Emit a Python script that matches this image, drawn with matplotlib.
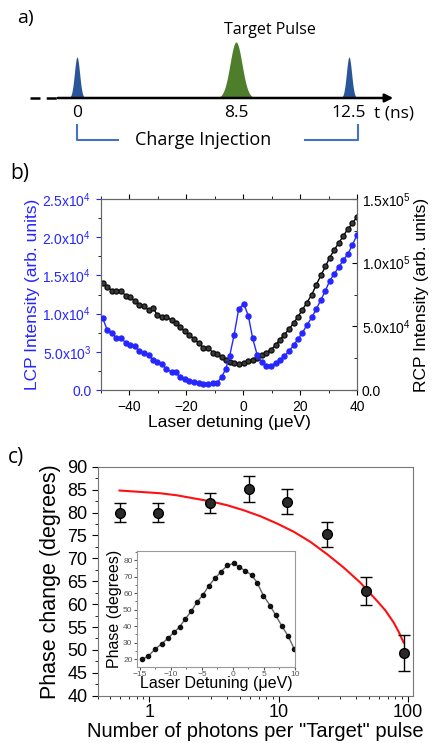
import numpy as np
import matplotlib
matplotlib.use('Agg')
import matplotlib.pyplot as plt
from matplotlib.ticker import FuncFormatter, MultipleLocator, LogLocator, NullFormatter

plt.rcParams['font.family'] = ['Liberation Sans', 'DejaVu Sans']
plt.rcParams['mathtext.fontset'] = 'custom'
plt.rcParams['mathtext.rm'] = 'Liberation Sans'

# a) pulse sequence (schematic)
pulse_labels = ['0', '8.5', '12.5']
pulse_colors = ['#2a5699', '#4e7d2b', '#2a5699']

# b) LCP / RCP intensity vs laser detuning
detuning = [-49.4, -47.8, -46.1, -44.6, -43.0, -41.3, -39.7, -38.1, -36.5, -34.9,
            -33.3, -31.7, -30.2, -28.5, -27.0, -25.2, -23.8, -22.2, -20.5, -18.9,
            -17.3, -15.6, -14.0, -12.3, -10.6, -9.3, -7.6, -6.2, -4.8, -3.2,
            -1.6, 0.2, 1.8, 3.3, 4.9, 6.5, 8.1, 9.7, 11.4, 12.8,
            14.4, 16.1, 17.7, 19.3, 20.8, 22.4, 24.1, 25.7, 27.3, 28.9,
            30.4, 32.0, 33.6, 35.2, 36.8, 38.4, 40.0]
lcp = [9400, 7850, 7500, 6800, 6800, 6200, 5850, 5700, 5100, 4900,
       4600, 3900, 3700, 3400, 2700, 2400, 2300, 1700, 1500, 1200,
       1000, 950, 750, 750, 900, 900, 1700, 2700, 4400, 7200,
       10600, 11300, 9700, 6800, 4600, 3600, 3200, 3200, 3500, 3900,
       4450, 5100, 5850, 6700, 7500, 8500, 9500, 10600, 11800, 13000,
       14300, 15200, 16100, 17000, 17800, 19000, 20300]
rcp = [84000, 81000, 78000, 77500, 78000, 74000, 72700, 70000, 67000, 65600,
       63000, 64300, 59000, 57700, 57700, 54600, 53000, 49400, 46000, 43300,
       40000, 36800, 32800, 32800, 29400, 28300, 26200, 23600, 22300, 21000,
       20500, 21000, 22800, 23600, 25000, 27600, 29400, 31500, 35400, 39400,
       43300, 47800, 52500, 57700, 63000, 68700, 74800, 82700, 90000, 97000,
       104000, 110000, 115500, 121000, 126500, 131000, 136000]

# c) phase change vs photon number
photons = [0.59, 1.18, 2.93, 5.86, 11.7, 23.7, 47.4, 93.8]
phase = [80.0, 80.0, 82.0, 85.1, 82.4, 75.2, 62.9, 49.3]
phase_err = [2.0, 2.1, 2.2, 2.8, 2.7, 2.8, 3.1, 4.0]
fit_x = [0.59, 1.22, 1.64, 2.2, 2.96, 3.99, 5.36, 7.22, 9.72, 13.1, 17.6,
         23.7, 31.8, 42.8, 57.7, 67.0, 77.5, 85.0, 92.6]
fit_y = [84.8, 84.2, 83.75, 83.1, 82.45, 81.6, 80.5, 79.2, 77.6, 75.8, 73.6,
         70.9, 68.0, 64.7, 60.7, 58.6, 56.0, 53.9, 51.6]

# inset: phase vs laser detuning
inset_x = [-14.6, -13.6, -12.5, -11.5, -10.5, -9.5, -8.6, -7.7, -6.7, -5.8,
           -4.9, -3.9, -2.9, -1.9, -0.9, 0.1, 1.0, 2.0, 3.0, 3.9,
           4.9, 6.0, 6.9, 7.9, 8.9, 9.9]
inset_y = [20.0, 22.0, 26.3, 29.2, 32.6, 36.3, 39.5, 44.3, 49.1, 54.5,
           58.6, 64.3, 69.0, 73.0, 76.8, 78.0, 76.0, 73.4, 71.0, 66.4,
           58.5, 52.5, 46.5, 40.0, 34.0, 26.0]

W, H = 447, 743
fig = plt.figure(figsize=(W / 100, H / 100), dpi=100)

# ---------- panel a ----------
ax_a = fig.add_axes([0, 1 - 160 / H, 1, 160 / H])
ax_a.set_xlim(0, W)
ax_a.set_ylim(160, 0)
ax_a.axis('off')
base = 98
pos = [77, 236, 349]
heights = [41, 56, 41]
widths = [2.6, 6.0, 2.6]
for p, h, w, c in zip(pos, heights, widths, pulse_colors):
    xs = np.linspace(p - 3.2 * w, p + 3.2 * w, 120)
    ys = base - h * np.exp(-(xs - p) ** 2 / (2 * w ** 2))
    ax_a.fill_between(xs, ys, base, color=c, lw=0)
ax_a.plot([30, 57], [base, base], color='k', lw=1.8, dashes=(4, 2.5))
ax_a.annotate('', xy=(396, base), xytext=(55, base),
              arrowprops=dict(arrowstyle='-|>', lw=1.8, color='k', mutation_scale=12))
fa = 'Open Sans'
for p, lab in zip(pos, pulse_labels):
    ax_a.text(p, 113, lab, ha='center', va='center', fontsize=12.5, family=fa)
ax_a.text(394, 113, 't (ns)', ha='center', va='center', fontsize=12.5, family=fa)
ax_a.text(270, 30, 'Target Pulse', ha='center', va='center', fontsize=11.5, family=fa)
ax_a.text(203, 140, 'Charge Injection', ha='center', va='center', fontsize=13, family=fa)
ax_a.text(17, 18, 'a)', ha='left', va='center', fontsize=14, family=fa)
bc = '#4472c4'
ax_a.plot([77, 77, 118], [125, 140, 140], color=bc, lw=1.5)
ax_a.plot([305, 358, 358], [140, 140, 125], color=bc, lw=1.5)

# ---------- panel b ----------
def sci(v, p):
    if v == 0:
        return '0.0'
    e = int(np.floor(np.log10(v) + 1e-9))
    m = v / 10 ** e
    return r'$%.1f\mathrm{x}10^{%d}$' % (m, e)

blue = '#2626ff'
ax_b = fig.add_axes([101 / W, 1 - 390 / H, 256 / W, 191 / H])
ax_b2 = ax_b.twinx()
ax_b2.plot(detuning, rcp, '-o', color='k', lw=1, ms=3.6, mfc='#3a3a3a', mec='#111', zorder=2)
ax_b.plot(detuning, lcp, '-o', color=blue, lw=1, ms=3.6, mfc=blue, mec=blue, zorder=3)
ax_b.set_zorder(ax_b2.get_zorder() + 1)
ax_b.patch.set_visible(False)
ax_b.set_xlim(-50, 40)
ax_b.set_ylim(0, 2.5e4)
ax_b2.set_ylim(0, 1.5e5)
ax_b.set_yticks([0, 5e3, 1e4, 1.5e4, 2e4, 2.5e4])
ax_b2.set_yticks([0, 5e4, 1e5, 1.5e5])
ax_b.yaxis.set_major_formatter(FuncFormatter(sci))
ax_b2.yaxis.set_major_formatter(FuncFormatter(sci))
ax_b.set_xticks([-40, -20, 0, 20, 40])
ax_b.xaxis.set_minor_locator(MultipleLocator(10))
ax_b.yaxis.set_minor_locator(MultipleLocator(2500))
ax_b2.yaxis.set_minor_locator(MultipleLocator(25000))
ax_b.tick_params(axis='both', which='both', direction='out', labelsize=10, top=True)
ax_b.tick_params(axis='y', colors=blue, labelsize=10)
ax_b2.tick_params(axis='y', which='both', direction='in', labelsize=10)
for a in (ax_b, ax_b2):
    for s in a.spines.values():
        s.set_color('#666')
ax_b.set_xlabel('Laser detuning (μeV)', fontsize=12.5, labelpad=1)
ax_b.set_ylabel('LCP Intensity (arb. units)', fontsize=12.5, color=blue, labelpad=2)
ax_b2.set_ylabel('RCP Intensity (arb. units)', fontsize=12.5, labelpad=2)
fig.text(10 / W, 1 - 173 / H, 'b)', fontsize=15, va='center', ha='left', family=fa)

# ---------- panel c ----------
ax_c = fig.add_axes([97.7 / W, 1 - 695.7 / H, 315.6 / W, 229 / H])
ax_c.set_xscale('log')
ax_c.plot(fit_x, fit_y, color='#ff1010', lw=1.5, zorder=2)
ax_c.errorbar(photons, phase, yerr=phase_err, fmt='o', color='k', ms=7,
              mfc='#2a2a2a', mec='k', capsize=4, elinewidth=1, capthick=1, zorder=3)
ax_c.set_xlim(0.4, 110)
ax_c.set_ylim(40, 90)
ax_c.set_yticks(range(40, 91, 5))
ax_c.yaxis.set_minor_locator(MultipleLocator(2.5))
ax_c.set_xticks([1, 10, 100])
ax_c.set_xticklabels(['1', '10', '100'])
ax_c.xaxis.set_minor_locator(LogLocator(base=10, subs=np.arange(2, 10)))
ax_c.xaxis.set_minor_formatter(NullFormatter())
ax_c.tick_params(axis='both', which='both', direction='out', labelsize=13)
ax_c.tick_params(axis='x', which='major', pad=2)
ax_c.tick_params(axis='both', which='major', length=4)
ax_c.tick_params(axis='both', which='minor', length=2.5)
for s in ax_c.spines.values():
    s.set_color('#777')
ax_c.set_ylabel('Phase change (degrees)', fontsize=15.5, labelpad=4)
ax_c.set_xlabel('Number of photons per "Target" pulse', fontsize=14.5, labelpad=1)
fig.text(8 / W, 1 - 457 / H, 'c)', fontsize=15, va='center', ha='left', family=fa)

# inset
ax_in = fig.add_axes([136.7 / W, 1 - 666.7 / H, 158.3 / W, 115.7 / H])
ax_in.plot(inset_x, inset_y, '-o', color='#666', lw=1, ms=3, mfc='#111', mec='#111')
ax_in.set_xlim(-15.5, 10)
ax_in.set_ylim(15.5, 85.5)
ax_in.set_xticks([-15, -10, -5, 0, 5, 10])
ax_in.set_yticks(range(20, 81, 10))
ax_in.xaxis.set_minor_locator(MultipleLocator(2.5))
ax_in.yaxis.set_minor_locator(MultipleLocator(5))
ax_in.tick_params(axis='both', which='both', direction='out', labelsize=6,
                  colors='#555', length=2, pad=1)
ax_in.tick_params(which='minor', length=1.2)
for s in ax_in.spines.values():
    s.set_color('#999')
ax_in.set_ylabel('Phase (degrees)', fontsize=11.5, labelpad=1)
ax_in.set_xlabel('Laser Detuning (μeV)', fontsize=11.5, labelpad=-1)

fig.savefig('out.png', dpi=100)
